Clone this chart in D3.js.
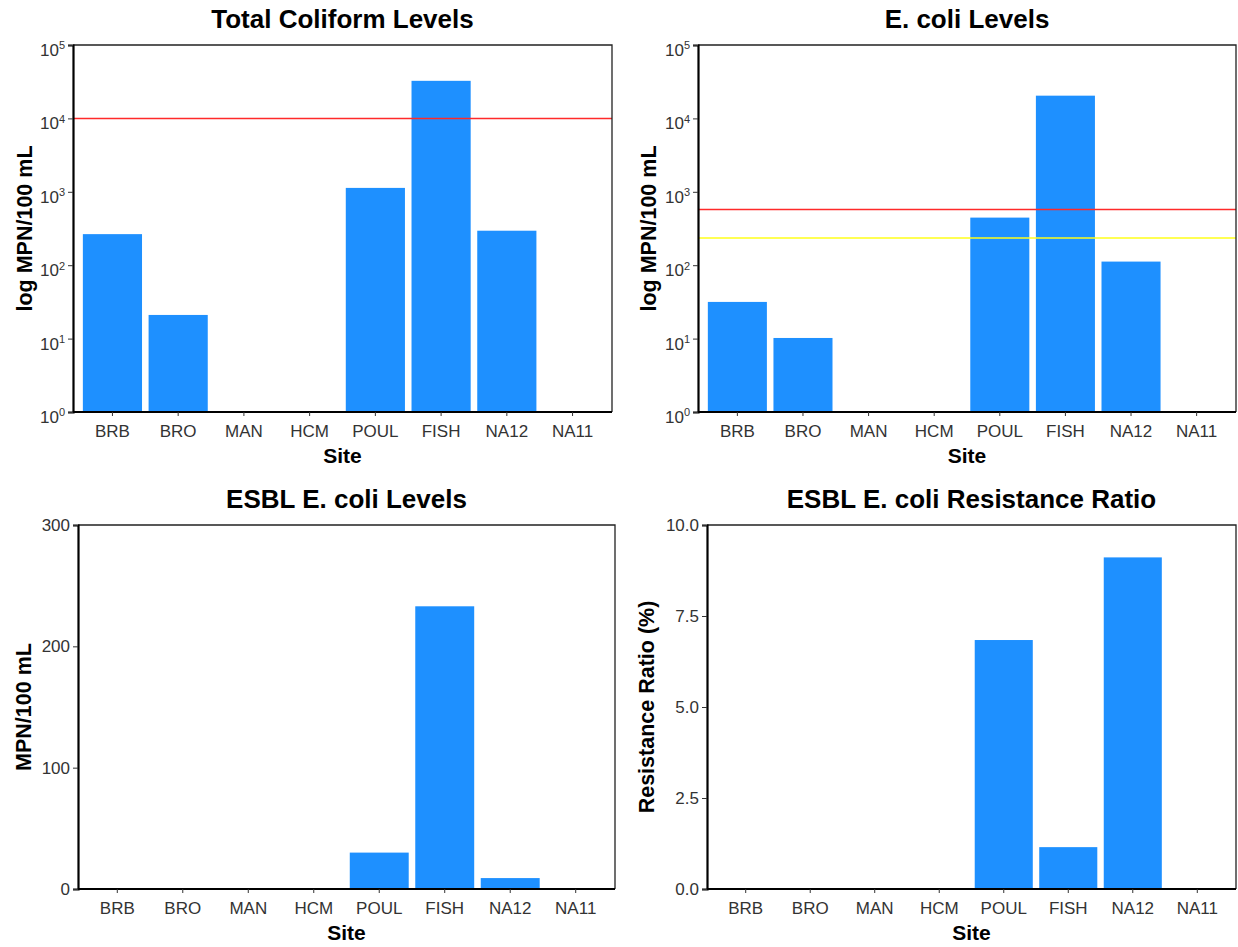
<!DOCTYPE html>
<html>
<head>
<meta charset="utf-8">
<script src="https://cdn.jsdelivr.net/npm/d3@7/dist/d3.min.js"></script>
<style>
  html, body { margin: 0; padding: 0; background: #fff; }
  svg { display: block; font-family: "Liberation Sans", Arial, sans-serif; }
</style>
</head>
<body>
<svg id="chart" width="1238" height="947"></svg>
<script>
// ---- data ----
const sites = ["BRB", "BRO", "MAN", "HCM", "POUL", "FISH", "NA12", "NA11"];
const totalColiform = [265, 21, 0, 0, 1130, 32500, 295, 0];
const eColi = [31.6, 10.2, 0, 0, 445, 20400, 112, 0];
const esblEColi = [0, 0, 0, 0, 30, 233, 9, 0];
const resistanceRatio = [0, 0, 0, 0, 6.84, 1.15, 9.11, 0];
const totalColiformLimits = [10000];
const totalColiformLimitColors = ["#FF2A2A"];
const eColiLimits = [576, 235];
const eColiLimitColors = ["#FF2A2A", "#FFFF1A"];
const logTicks = [1, 10, 100, 1000, 10000, 100000];
const esblTicks = [0, 100, 200, 300];
const ratioTicks = [0, 2.5, 5, 7.5, 10];
const titles = ["Total Coliform Levels", "E. coli Levels", "ESBL E. coli Levels", "ESBL E. coli Resistance Ratio"];
const yTitles = ["log MPN/100 mL", "log MPN/100 mL", "MPN/100 mL", "Resistance Ratio (%)"];

const svg = d3.select("#chart");
const BAR = "#1E90FF";
const TICKFONT = "17px";

function panel(cfg) {
  const { left, right, top, bottom, values, log, domain, ticks, fmt, title, yTitle, yTitleX, hlines, hcolors } = cfg;
  const g = svg.append("g");
  const x = d3.scaleBand().domain(sites).range([left, right]).paddingInner(0.1).paddingOuter(0.15);
  const y = log
    ? d3.scaleLog().domain(domain).range([bottom, top])
    : d3.scaleLinear().domain(domain).range([bottom, top]);
  const base = log ? domain[0] : 0;

  const data = sites.map((s, i) => ({ site: s, v: values[i] })).filter(d => d.v > base);
  g.selectAll("rect.bar").data(data).enter().append("rect")
    .attr("class", "bar")
    .attr("x", d => x(d.site))
    .attr("width", x.bandwidth())
    .attr("y", d => y(d.v))
    .attr("height", d => y(base) - y(d.v))
    .attr("fill", BAR);

  (hlines || []).forEach((h, i) => {
    g.append("line")
      .attr("x1", left).attr("x2", right)
      .attr("y1", y(h)).attr("y2", y(h))
      .attr("stroke", hcolors[i]).attr("stroke-width", 1.5);
  });

  // panel border (top/right)
  g.append("path")
    .attr("d", `M${left},${top}H${right}V${bottom}`)
    .attr("fill", "none").attr("stroke", "#222").attr("stroke-width", 1.3);

  // y axis
  const ya = d3.axisLeft(y).tickValues(ticks).tickSize(5).tickPadding(3).tickFormat(log ? () => "" : fmt);
  const yg = g.append("g").attr("transform", `translate(${left},0)`).call(ya);
  yg.select(".domain").attr("stroke", "#000").attr("stroke-width", 2.2);
  yg.selectAll(".tick line").attr("stroke", "#333").attr("stroke-width", 1);
  yg.selectAll(".tick text").attr("fill", "#333").style("font-size", TICKFONT).style("font-family", "Liberation Sans, Arial, sans-serif");
  if (log) {
    yg.selectAll(".tick text").each(function (d) {
      const t = d3.select(this);
      t.text(null);
      t.append("tspan").text("10");
      t.append("tspan").attr("dy", "-0.6em").style("font-size", "11px").text(Math.round(Math.log10(d)));
      t.attr("dy", "0.62em");
    });
  }

  // x axis
  const xa = d3.axisBottom(x).tickSize(4).tickPadding(9);
  const xg = g.append("g").attr("transform", `translate(0,${bottom})`).call(xa);
  xg.select(".domain").attr("stroke", "#000").attr("stroke-width", 2.2).attr("d", `M${left},0H${right}`);
  xg.selectAll(".tick line").attr("stroke", "#333").attr("stroke-width", 1);
  xg.selectAll(".tick text").attr("fill", "#333").style("font-size", TICKFONT).style("font-family", "Liberation Sans, Arial, sans-serif");

  // titles
  g.append("text").attr("x", (left + right) / 2).attr("y", top - 17)
    .attr("text-anchor", "middle").style("font-size", "26px").style("font-weight", "bold").attr("fill", "#000")
    .text(title);
  g.append("text").attr("x", (left + right) / 2).attr("y", bottom + 51)
    .attr("text-anchor", "middle").style("font-size", "21px").style("font-weight", "bold").attr("fill", "#000")
    .text("Site");
  g.append("text")
    .attr("transform", `translate(${yTitleX},${(top + bottom) / 2}) rotate(-90)`)
    .attr("text-anchor", "middle").style("font-size", "21.5px").style("font-weight", "bold").attr("fill", "#000")
    .text(yTitle);
}

panel({ left: 73, right: 612, top: 45, bottom: 412, values: totalColiform, log: true, domain: [1, 100000],
  ticks: logTicks, title: titles[0], yTitle: yTitles[0], yTitleX: 32, hlines: totalColiformLimits, hcolors: totalColiformLimitColors });
panel({ left: 698, right: 1236, top: 45, bottom: 412, values: eColi, log: true, domain: [1, 100000],
  ticks: logTicks, title: titles[1], yTitle: yTitles[1], yTitleX: 656, hlines: eColiLimits, hcolors: eColiLimitColors });
panel({ left: 78, right: 615, top: 525, bottom: 889, values: esblEColi, log: false, domain: [0, 300],
  ticks: esblTicks, fmt: d3.format("d"), title: titles[2], yTitle: yTitles[2], yTitleX: 31 });
panel({ left: 707, right: 1236, top: 525, bottom: 889, values: resistanceRatio, log: false, domain: [0, 10],
  ticks: ratioTicks, fmt: d3.format(".1f"), title: titles[3], yTitle: yTitles[3], yTitleX: 654 });
</script>
</body>
</html>
